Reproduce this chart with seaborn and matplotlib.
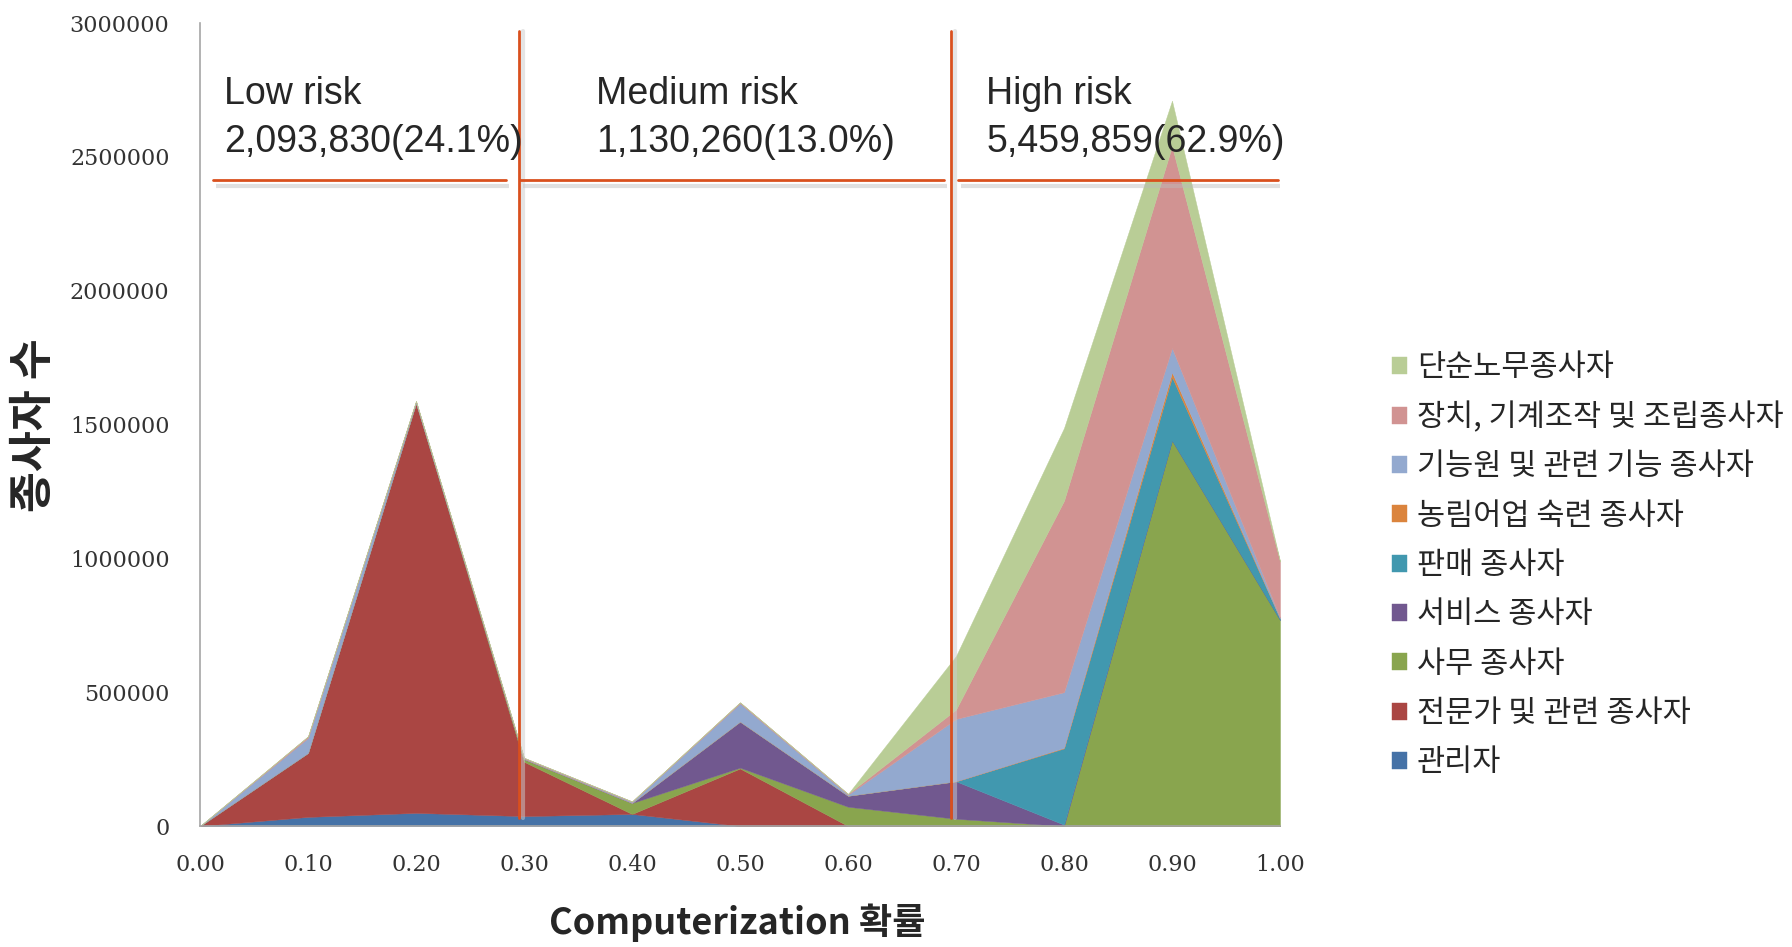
import matplotlib
matplotlib.use("Agg")
import matplotlib.pyplot as plt
import seaborn as sns
import numpy as np

# ---- data ----
x_prob = [0.0, 0.1, 0.2, 0.3, 0.4, 0.5, 0.6, 0.7, 0.8, 0.9, 1.0]
x_ticklabels = ["0.00", "0.10", "0.20", "0.30", "0.40", "0.50", "0.60", "0.70", "0.80", "0.90", "1.00"]
y_ticks = [0, 500000, 1000000, 1500000, 2000000, 2500000, 3000000]

series_names = ["관리자", "전문가 및 관련 종사자", "사무 종사자", "서비스 종사자", "판매 종사자",
                "농림어업 숙련 종사자", "기능원 및 관련 기능 종사자", "장치, 기계조작 및 조립종사자", "단순노무종사자"]
manager     = [0, 34000, 49000, 37000, 45000, 0, 0, 0, 0, 0, 0]
professional= [0, 239000, 1531000, 203000, 0, 215000, 0, 0, 0, 0, 0]
clerical    = [0, 0, 0, 10000, 41000, 3000, 72000, 27000, 0, 1441000, 770000]
service     = [0, 0, 0, 0, 0, 172000, 41000, 140000, 5000, 0, 0]
sales       = [0, 0, 0, 0, 0, 0, 0, 0, 285000, 236000, 5000]
agriculture = [0, 0, 0, 0, 0, 0, 0, 0, 2000, 18000, 0]
craft       = [0, 56000, 6000, 2000, 4000, 68000, 4000, 233000, 208000, 91000, 3000]
machine     = [0, 6000, 2000, 3000, 2000, 4000, 3000, 35000, 715000, 754000, 210000]
elementary  = [0, 0, 0, 0, 0, 0, 0, 200000, 272000, 170000, 2000]

colors = ["#4572A7", "#AA4643", "#89A54E", "#71588F", "#4198AF",
          "#DB843D", "#93A9CF", "#D19392", "#B9CD96"]

risk_labels = ["Low risk\n2,093,830(24.1%)", "Medium risk\n1,130,260(13.0%)", "High risk\n5,459,859(62.9%)"]

# ---- plot ----
sns.set_theme(style="white")
plt.rcParams['font.family'] = ['Noto Sans CJK KR', 'DejaVu Sans']

fig = plt.figure(figsize=(17.92, 9.47), dpi=100)
ax = fig.add_axes([200/1792, 1-826/947, 1080/1792, 803/947])

palette = sns.color_palette(colors)
data = [manager, professional, clerical, service, sales, agriculture, craft, machine, elementary]
polys = ax.stackplot(x_prob, *data, colors=palette, labels=series_names,
                     linewidth=0.3, edgecolor="face")

ax.set_xlim(0, 1.0)
ax.set_ylim(0, 3000000)
ax.set_xticks(x_prob)
ax.set_xticklabels(x_ticklabels, family="DejaVu Serif", fontsize=16, color="#333333")
ax.set_yticks(y_ticks)
ax.set_yticklabels([str(v) for v in y_ticks], family="DejaVu Serif", fontsize=16, color="#333333")
ax.tick_params(axis="x", length=0, pad=20)
ax.tick_params(axis="y", length=0, pad=22)
for s in ["top", "right"]:
    ax.spines[s].set_visible(False)
for s in ["left", "bottom"]:
    ax.spines[s].set_color("#A6A6A6")
    ax.spines[s].set_linewidth(1.2)
ax.grid(False)

fig.text(34/1792, 1 - 425/947, "종사자 수", fontsize=32, fontweight="bold",
         rotation=90, ha="center", va="center")
fig.text(737/1792, 1-923/947, "Computerization 확률", fontsize=26, fontweight="bold",
         ha="center", va="center")

# risk annotations
line_col = "#D9501E"
seg = [(0.012, 0.283), (0.296, 0.689), (0.702, 0.998)]
txt_x = [0.022, 0.367, 0.728]
for (a, b), tx, lab in zip(seg, txt_x, risk_labels):
    ax.plot([a + 0.003, b + 0.003], [2392000, 2392000], color="#BBBBBB", lw=3, alpha=0.45,
            solid_capstyle="butt", zorder=4)
    ax.plot([a, b], [2415000, 2415000], color=line_col, lw=2, zorder=5)
    ax.text(tx, 2645000, lab, fontsize=27, family=["Liberation Sans", "DejaVu Sans"],
            va="center", ha="left", linespacing=1.4, zorder=6)
for vx in [0.295, 0.695]:
    ax.plot([vx + 0.004, vx + 0.004], [30000, 2970000], color="#CCCCCC", lw=3, alpha=0.5, zorder=4)
    ax.plot([vx, vx], [30000, 2970000], color=line_col, lw=2, zorder=5)

handles = polys[::-1]
leg = fig.legend(handles, series_names[::-1], loc="upper left",
                 bbox_to_anchor=(1380/1792, 1-340/947), frameon=False,
                 fontsize=22, handlelength=0.48, handleheight=0.48, handletextpad=0.32,
                 labelspacing=0.6, borderaxespad=0)

fig.savefig("out.png", dpi=100)
